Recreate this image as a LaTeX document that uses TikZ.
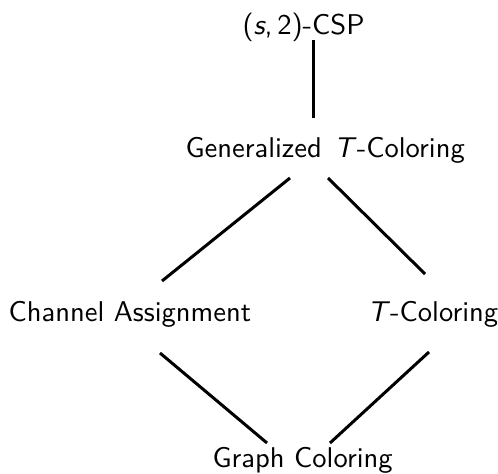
\documentclass[tikz,border=0pt]{standalone}
\usepackage{fontspec}
\usetikzlibrary{calc}
\tikzset{
  lbl/.style={anchor=base west, inner sep=0pt, font=\sffamily},
  edge/.style={line width=1.05pt}
}
\begin{document}
\begin{tikzpicture}[x=0.35pt, y=-0.35pt]
\useasboundingbox (0,0) rectangle (498,474);
% the problem classes
\node[lbl] (csp)   at (242,35)  {(\textit{s},\,2)-CSP};
\node[lbl] (gen)   at (185,158) {Generalized \kern1pt\textit{T}-Coloring};
\node[lbl] (chan)  at (8,322)   {Channel Assignment};
\node[lbl] (tcol)  at (367,322) {\textit{T}-Coloring};
\node[lbl] (graph) at (212,467) {Graph Coloring};
% the inclusions between them
\draw[edge] ($(csp.base west)+(71,5)$)    -- ($(gen.base west)+(128,-40)$);
\draw[edge] ($(gen.base west)+(105,20)$)  -- ($(chan.base west)+(154,-41)$);
\draw[edge] ($(gen.base west)+(143,20)$)  -- ($(tcol.base west)+(58,-48)$);
\draw[edge] ($(chan.base west)+(152,31)$) -- ($(graph.base west)+(55,-24)$);
\draw[edge] ($(tcol.base west)+(62,30)$)  -- ($(graph.base west)+(118,-24)$);
\end{tikzpicture}
\end{document}
